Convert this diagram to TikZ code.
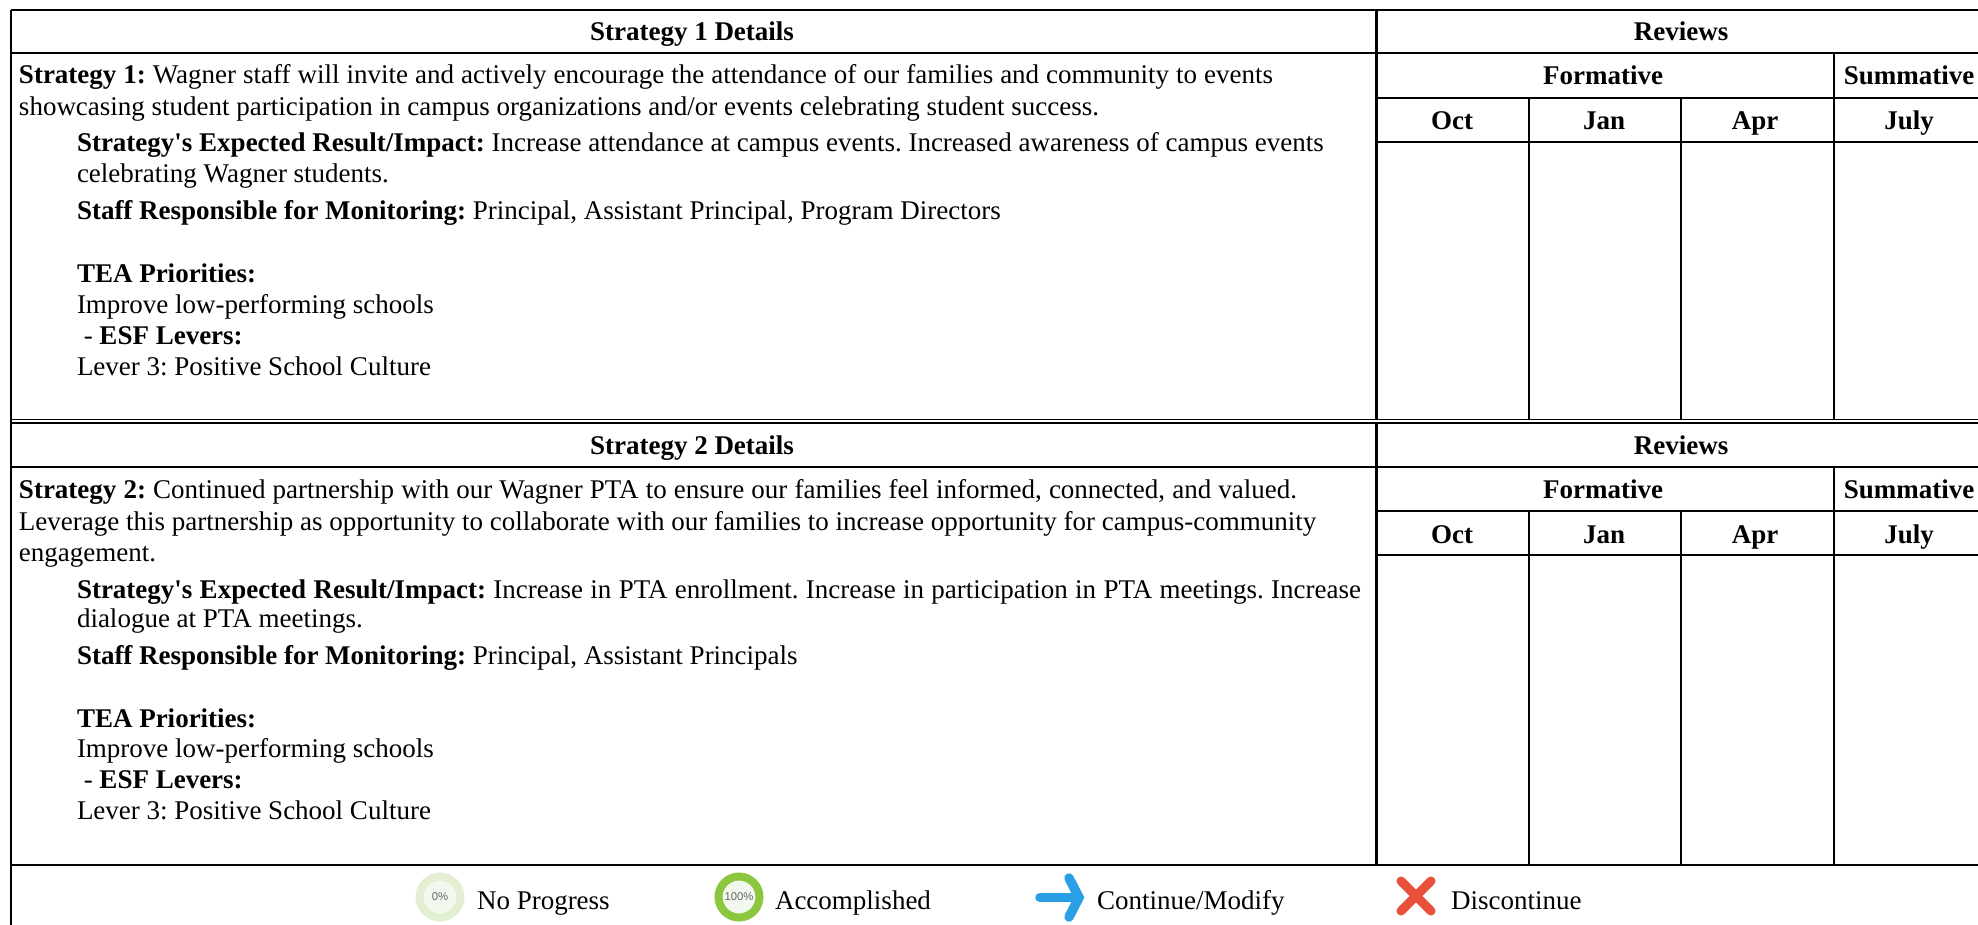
\documentclass[tikz,border=0pt]{standalone}
\usepackage{fontspec}
\setmainfont{Liberation Serif}[Ligatures=TeXOff]
\newfontfamily\legendsans{Liberation Sans}
\frenchspacing
\definecolor{armblue}{HTML}{2B9FE6}
\definecolor{xred}{HTML}{EA4F3C}
\definecolor{ringgreen}{HTML}{8CC63F}
\definecolor{ringpale}{HTML}{E3EFD3}
\definecolor{ringin}{HTML}{F3F8EE}
\definecolor{pctgrey}{HTML}{666666}
\tikzset{
  rule/.style={line width=2.4pt,black},
  body/.style={anchor=base west,inner sep=0pt,outer sep=0pt,font=\fontsize{27}{30}\selectfont},
  head/.style={anchor=base,inner sep=0pt,outer sep=0pt,font=\fontsize{27}{30}\selectfont\bfseries},
  ring/.style={circle,minimum size=41pt,inner sep=0pt,line width=8pt},
  pct/.style={font=\fontsize{11.3}{13}\legendsans,text=pctgrey,inner sep=0pt}
}
\begin{document}
\begin{tikzpicture}[x=1pt,y=-1pt]
\useasboundingbox (0,0) rectangle (1978,925);
\coordinate (TL) at (11,10);\coordinate (TR) at (1978,10);
\coordinate (BL) at (11,925);
\draw[rule] (TL) -- (TR);
\draw[rule] (TL) -- (BL);
\draw[rule] (11,53) -- (1978,53);
\draw[rule,line width=1.8pt] (11,419.5) -- (1978,419.5);
\draw[rule,line width=1.8pt] (11,423) -- (1978,423);
\draw[rule] (11,467) -- (1978,467);
\draw[rule] (11,865) -- (1978,865);
\foreach \yy in {98,142,511,555}{\draw[rule] (1376.5,\yy) -- (1978,\yy);}
\foreach \ya/\yb in {10/419,423/865}{\draw[rule,line width=2.6pt] (1376.5,\ya) -- (1376.5,\yb);}
\draw[rule] (1834,53) -- (1834,419);
\draw[rule] (1834,467) -- (1834,865);
\foreach \xx in {1529,1681}{
  \draw[rule] (\xx,98) -- (\xx,419);
  \draw[rule] (\xx,511) -- (\xx,865);
}
% Strategy 1
\node[head] (h1) at (692,41) {Strategy 1 Details};
\node[head] (r1) at (1681,41) {Reviews};
\node[head] (f1) at (1603,85) {Formative};
\node[head] (s1) at (1909,85) {Summative};
\node[head] (o1) at (1452,130) {Oct};
\node[head] (j1) at (1604,130) {Jan};
\node[head] (a1) at (1755,130) {Apr};
\node[head] (u1) at (1909,130) {July};
\node[body] (a) at (19,84) {\hbox to 1254pt{\textbf{Strategy 1:} Wagner staff will invite and actively encourage the attendance of our families and community to events}};
\node[body] (b) at (19,116) {showcasing student participation in campus organizations and/or events celebrating student success.};
\node[body] (c) at (77,152) {\textbf{Strategy's Expected Result/Impact:} Increase attendance at campus events. Increased awareness of campus events};
\node[body] (d) at (77,183) {celebrating Wagner students.};
\node[body] (e) at (77,220) {\textbf{Staff Responsible for Monitoring:} Principal, Assistant Principal, Program Directors};
\node[body] (f) at (77,283) {\textbf{TEA Priorities:}};
\node[body] (g) at (77,313) {Improve low-performing schools};
\node[body] (i) at (77,344) {\ - \textbf{ESF Levers:}};
\node[body] (k) at (77,375) {Lever 3: Positive School Culture};
% Strategy 2
\node[head] (h2) at (692,454) {Strategy 2 Details};
\node[head] (r2) at (1681,454) {Reviews};
\node[head] (f2) at (1603,498) {Formative};
\node[head] (s2) at (1909,498) {Summative};
\node[head] (o2) at (1452,543) {Oct};
\node[head] (j2) at (1604,543) {Jan};
\node[head] (a2) at (1755,543) {Apr};
\node[head] (u2) at (1909,543) {July};
\node[body] (l) at (19,498) {\hbox to 1278pt{\textbf{Strategy 2:} Continued partnership with our Wagner PTA to ensure our families feel informed, connected, and valued.}};
\node[body] (m) at (19,530) {Leverage this partnership as opportunity to collaborate with our families to increase opportunity for campus-community};
\node[body] (n) at (19,561) {engagement.};
\node[body] (p) at (77,598) {\hbox to 1284pt{\textbf{Strategy's Expected Result/Impact:} Increase in PTA enrollment. Increase in participation in PTA meetings. Increase}};
\node[body] (q) at (77,627) {dialogue at PTA meetings.};
\node[body] (t) at (77,664) {\textbf{Staff Responsible for Monitoring:} Principal, Assistant Principals};
\node[body] (w) at (77,727) {\textbf{TEA Priorities:}};
\node[body] (x) at (77,757) {Improve low-performing schools};
\node[body] (y) at (77,788) {\ - \textbf{ESF Levers:}};
\node[body] (z) at (77,819) {Lever 3: Positive School Culture};
% Legend
\node[ring,draw=ringpale,fill=ringin] (np) at (440,897) {};
\node[pct] at (np) {0\%};
\node[body] (npt) at (477,909) {No Progress};
\node[ring,draw=ringgreen,fill=ringin] (ac) at (739,897) {};
\node[pct] at (ac) {100\%};
\node[body] (act) at (775,909) {Accomplished};
\coordinate (atail) at (1040,897.5);\coordinate (atip) at (1079,897.5);
\coordinate (atop) at (1069,878);\coordinate (abot) at (1069,917);
\draw[armblue,line width=9.5pt,line cap=round] (atail) -- (atip);
\draw[armblue,line width=9.5pt,line cap=round,line join=miter] (atop) -- (atip) -- (abot);
\node[body] (cmt) at (1097,909) {Continue/Modify};
\coordinate (xa) at (1401,881);\coordinate (xb) at (1431,911);
\coordinate (xc) at (1431,881);\coordinate (xd) at (1401,911);
\draw[xred,line width=9pt,line cap=round] (xa) -- (xb) (xc) -- (xd);
\node[body] (dct) at (1451,909) {Discontinue};
\end{tikzpicture}
\end{document}
